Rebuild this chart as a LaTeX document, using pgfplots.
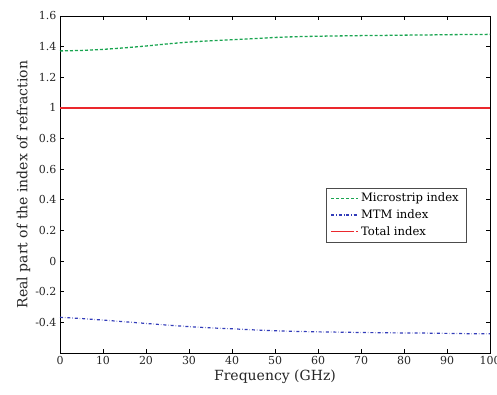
\documentclass[border=0pt]{standalone}
\usepackage{pgfplots}
\pgfplotsset{compat=1.18}
\usepackage{fontspec}
\setmainfont{DejaVu Serif}
\definecolor{msgreen}{RGB}{25,165,80}
\definecolor{mtmblue}{RGB}{50,60,185}
\definecolor{totalred}{RGB}{235,40,45}
\begin{document}
\begin{tikzpicture}
\useasboundingbox (-60pt,-42pt) rectangle (437pt,353pt);
\begin{axis}[
  at={(0pt,0pt)}, anchor=south west,
  scale only axis, width=430pt, height=337pt,
  xmin=0, xmax=100, ymin=-0.6, ymax=1.6,
  xtick={0,10,...,100},
  ytick={-0.4,-0.2,0,0.2,0.4,0.6,0.8,1,1.2,1.4,1.6},
  yticklabels={-0.4,-0.2,0,0.2,0.4,0.6,0.8,1,1.2,1.4,1.6},
  tick align=inside, major tick length=4pt,
  tick style={black, line width=0.8pt},
  axis line style={black, line width=0.9pt},
  /pgf/number format/assume math mode=true,
  ticklabel style={font=\fontsize{11}{12}\selectfont, text=black!85},
  xlabel={Frequency (GHz)}, ylabel={Real part of the index of refraction},
  label style={font=\fontsize{14}{16}\selectfont, text=black!85},
  xlabel style={yshift=2pt},
  ylabel style={yshift=-2pt},
  legend style={at={(0.944,0.49)}, anchor=north east, draw=black!70,
    font=\fontsize{11.6}{13}\selectfont,
    row sep=2.5pt, inner xsep=5pt, inner ysep=3pt},
  legend cell align=left,
  legend image code/.code={\draw[#1] (0pt,0pt) -- (23pt,0pt); \path (0pt,0pt) -- (27pt,0pt);},
]
% total index (drawn first, legend entry added last)
\addplot[color=totalred, draw=totalred, solid, line width=1.2pt, forget plot] coordinates {(0,1) (100,1)};
\addplot[color=msgreen, draw=msgreen, densely dashed, line width=1.3pt] coordinates {
 (0,1.372) (5,1.375) (10,1.382) (15,1.392) (20,1.404) (25,1.418) (30,1.43)
 (35,1.438) (40,1.445) (45,1.452) (50,1.46) (55,1.465) (60,1.468) (65,1.47)
 (70,1.472) (75,1.473) (80,1.475) (85,1.476) (90,1.478) (95,1.479) (100,1.48)};
\addlegendentry{Microstrip index}
\addplot[color=mtmblue, draw=mtmblue, dash dot, line width=1.2pt] coordinates {
 (0,-0.367) (5,-0.375) (10,-0.385) (15,-0.396) (20,-0.407) (25,-0.418)
 (30,-0.428) (35,-0.436) (40,-0.442) (45,-0.449) (50,-0.455) (55,-0.459)
 (60,-0.462) (65,-0.464) (70,-0.466) (75,-0.468) (80,-0.469) (85,-0.47)
 (90,-0.472) (95,-0.474) (100,-0.475)};
\addlegendentry{MTM index}
\addlegendimage{color=totalred, draw=totalred, dash pattern=on 23pt off 2pt, line width=1.2pt}
\addlegendentry{Total index}
\end{axis}
\end{tikzpicture}
\end{document}
